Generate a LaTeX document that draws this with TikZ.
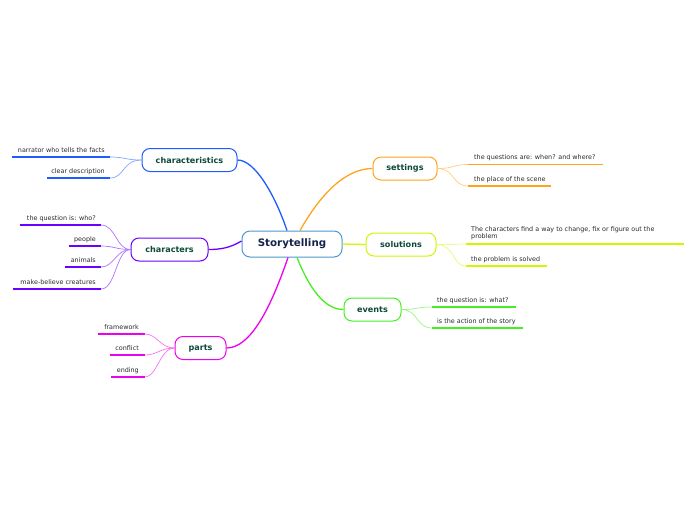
\documentclass[tikz,border=0pt]{standalone}
\usepackage{fontspec}
\setmainfont{DejaVu Sans}
\definecolor{cRoot}{HTML}{4F97D0}
\definecolor{cRootTxt}{HTML}{14234A}
\definecolor{cTxt}{HTML}{0D4A3A}
\definecolor{cLeafTxt}{HTML}{2A2A2A}
\definecolor{cBlue}{HTML}{1F5CFF}
\definecolor{cPurple}{HTML}{6A00FF}
\definecolor{cMag}{HTML}{EE00EE}
\definecolor{cOrange}{HTML}{FFA41C}
\definecolor{cLime}{HTML}{D2F500}
\definecolor{cGreen}{HTML}{44EE22}
\begin{document}
\begin{tikzpicture}[x=1pt,y=-1pt,
  rootbox/.style={draw=cRoot, line width=1pt, rounded corners=8pt, fill=white,
     font=\fontsize{10.3}{12}\selectfont\bfseries, text=cRootTxt,
     minimum width=100pt, minimum height=26pt, inner sep=0pt},
  topicbox/.style={draw=#1, line width=1pt, rounded corners=8pt, fill=white,
     font=\fontsize{8.1}{9}\selectfont\bfseries, text=cTxt, minimum height=23pt, inner sep=0pt},
  leafline/.style={draw=#1, line width=1.9pt},
  subline/.style={draw=#1!55, line width=0.7pt},
  mainline/.style={draw=#1, line width=1.3pt},
  lt/.style={font=\fontsize{6.4}{7.2}\selectfont, text=cLeafTxt, inner sep=0pt}
]
\useasboundingbox (0,0) rectangle (696,520);

% central node
\node[rootbox] (root) at (292,244) {Storytelling};

% topics
\node[topicbox=cBlue, minimum width=95pt] (chr) at (189.5,160) {characteristics};
\node[topicbox=cPurple, minimum width=77pt] (cha) at (169.5,249.5) {characters};
\node[topicbox=cMag, minimum width=51pt] (par) at (200.5,348) {parts};
\node[topicbox=cOrange, minimum width=64pt] (set) at (405,168.5) {settings};
\node[topicbox=cLime, minimum width=70pt] (sol) at (401,244.5) {solutions};
\node[topicbox=cGreen, minimum width=57pt] (eve) at (372.5,309.5) {events};

% main connectors
\draw[mainline=cBlue] ([xshift=-5pt]root.north) .. controls (275,195) and (255,160) .. (chr.east);
\draw[mainline=cOrange] ([xshift=8pt]root.north) .. controls (320,195) and (345,168.5) .. (set.west);
\draw[mainline=cLime] (root.east) -- (sol.west);
\draw[mainline=cGreen] ([xshift=5pt]root.south) .. controls (310,290) and (325,309.5) .. (eve.west);
\draw[mainline=cMag] ([xshift=-4pt]root.south) .. controls (270,310) and (250,348) .. (par.east);
\draw[mainline=cPurple] ([yshift=3pt]root.west) .. controls (230,248) and (220,249.5) .. (cha.east);

% ---- characteristics leaves
\coordinate (a1s) at (12,157); \coordinate (a1e) at (110,157);
\coordinate (a2s) at (47,178); \coordinate (a2e) at (110,178);
\draw[leafline=cBlue] (a1s) -- (a1e);
\draw[leafline=cBlue] (a2s) -- (a2e);
\node[lt, anchor=base east] (a1t) at (105,152) {narrator who tells the facts};
\node[lt, anchor=base east] (a2t) at (105,173) {clear description};
\draw[subline=cBlue] (chr.west) .. controls (125,160) and (125,157) .. (a1e);
\draw[subline=cBlue] (chr.west) .. controls (122,160) and (125,178) .. (a2e);

% ---- characters leaves
\coordinate (b1s) at (20,225); \coordinate (b1e) at (101,225);
\coordinate (b2s) at (69,246); \coordinate (b2e) at (101,246);
\coordinate (b3s) at (65,267); \coordinate (b3e) at (101,267);
\coordinate (b4s) at (13,289); \coordinate (b4e) at (101,289);
\draw[leafline=cPurple] (b1s) -- (b1e);
\draw[leafline=cPurple] (b2s) -- (b2e);
\draw[leafline=cPurple] (b3s) -- (b3e);
\draw[leafline=cPurple] (b4s) -- (b4e);
\node[lt, anchor=base east] (b1t) at (96,220) {the question is: who?};
\node[lt, anchor=base east] (b2t) at (96,241) {people};
\node[lt, anchor=base east] (b3t) at (96,262) {animals};
\node[lt, anchor=base east] (b4t) at (96,284) {make-believe creatures};
\draw[subline=cPurple] (cha.west) .. controls (116,249.5) and (116,225) .. (b1e);
\draw[subline=cPurple] (cha.west) .. controls (116,249.5) and (114,246) .. (b2e);
\draw[subline=cPurple] (cha.west) .. controls (116,249.5) and (114,267) .. (b3e);
\draw[subline=cPurple] (cha.west) .. controls (116,249.5) and (116,289) .. (b4e);

% ---- parts leaves
\coordinate (c1s) at (98,334); \coordinate (c1e) at (145,334);
\coordinate (c2s) at (110,355); \coordinate (c2e) at (145,355);
\coordinate (c3s) at (111,377); \coordinate (c3e) at (145,377);
\draw[leafline=cMag] (c1s) -- (c1e);
\draw[leafline=cMag] (c2s) -- (c2e);
\draw[leafline=cMag] (c3s) -- (c3e);
\node[lt, anchor=base east] (c1t) at (139,329) {framework};
\node[lt, anchor=base east] (c2t) at (139,350) {conflict};
\node[lt, anchor=base east] (c3t) at (139,372) {ending};
\draw[subline=cMag] (par.west) .. controls (160,348) and (157,334) .. (c1e);
\draw[subline=cMag] (par.west) .. controls (160,348) and (157,355) .. (c2e);
\draw[subline=cMag] (par.west) .. controls (160,348) and (157,377) .. (c3e);

% ---- settings leaves
\coordinate (d1s) at (468,164.5); \coordinate (d1e) at (603,164.5);
\coordinate (d2s) at (468,186); \coordinate (d2e) at (551,186);
\draw[leafline=cOrange] (d1s) -- (d1e);
\draw[leafline=cOrange] (d2s) -- (d2e);
\node[lt, anchor=base west] (d1t) at (474,159.5) {the questions are: when? and where?};
\node[lt, anchor=base west] (d2t) at (474,181) {the place of the scene};
\draw[subline=cOrange] (set.east) .. controls (455,168.5) and (452,164.5) .. (d1s);
\draw[subline=cOrange] (set.east) .. controls (455,168.5) and (452,186) .. (d2s);

% ---- solutions leaves
\coordinate (e1s) at (466,244); \coordinate (e1e) at (684,244);
\coordinate (e2s) at (466,266); \coordinate (e2e) at (547,266);
\draw[leafline=cLime] (e1s) -- (e1e);
\draw[leafline=cLime] (e2s) -- (e2e);
\node[lt, anchor=north west, align=left] (e1t) at (471,226.5) {The characters find a way to change, fix or figure out the\\problem};
\node[lt, anchor=base west] (e2t) at (471,261) {the problem is solved};
\draw[subline=cLime] (sol.east) .. controls (452,244.5) and (452,244) .. (e1s);
\draw[subline=cLime] (sol.east) .. controls (455,244.5) and (452,266) .. (e2s);

% ---- events leaves
\coordinate (f1s) at (432,307); \coordinate (f1e) at (516,307);
\coordinate (f2s) at (432,328); \coordinate (f2e) at (523,328);
\draw[leafline=cGreen] (f1s) -- (f1e);
\draw[leafline=cGreen] (f2s) -- (f2e);
\node[lt, anchor=base west] (f1t) at (437,302) {the question is: what?};
\node[lt, anchor=base west] (f2t) at (437,323) {is the action of the story};
\draw[subline=cGreen] (eve.east) .. controls (418,309.5) and (416,307) .. (f1s);
\draw[subline=cGreen] (eve.east) .. controls (418,309.5) and (416,328) .. (f2s);
\end{tikzpicture}
\end{document}
